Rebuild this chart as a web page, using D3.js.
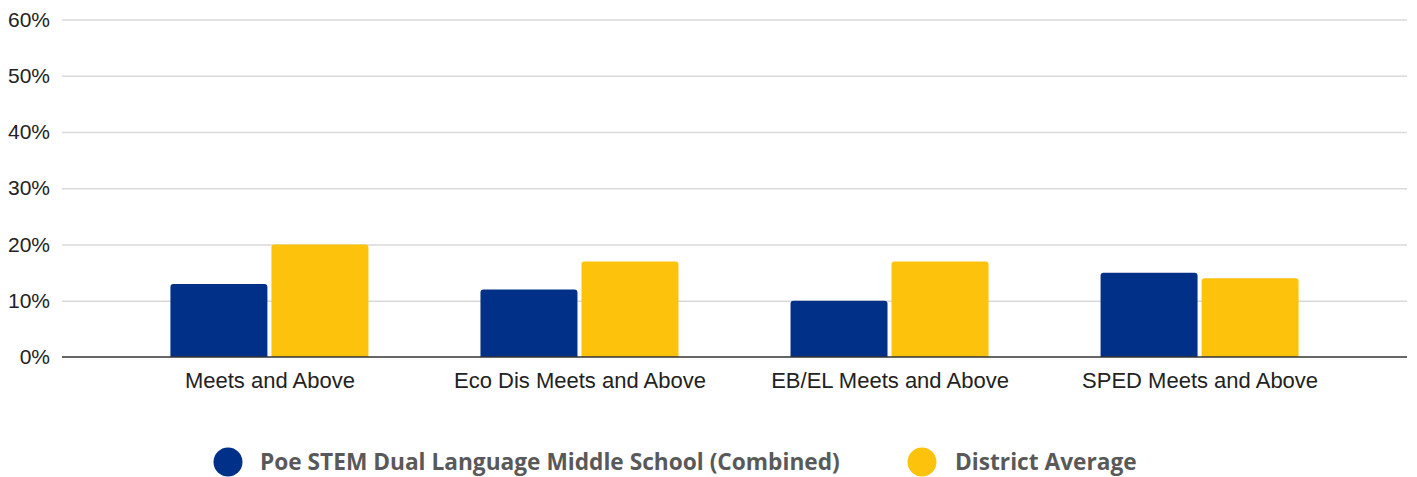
<!DOCTYPE html>
<html>
<head>
<meta charset="utf-8">
<script src="https://cdn.jsdelivr.net/npm/d3@7"></script>
<style>
  html, body { margin: 0; padding: 0; background: #fff; }
  svg { display: block; }
</style>
</head>
<body>
<svg id="chart" width="1417" height="477"></svg>
<script>
const categories = ["Meets and Above", "Eco Dis Meets and Above", "EB/EL Meets and Above", "SPED Meets and Above"];
const seriesNames = ["Poe STEM Dual Language Middle School (Combined)", "District Average"];
const schoolValues = [13, 12, 10, 15];
const districtValues = [20, 17, 17, 14];
const yTicks = [0, 10, 20, 30, 40, 50, 60];
const seriesColors = ["#003087", "#FDC20C"];

(function () {
const svg = d3.select("#chart");
const mLeft = 62, mRight = 1407, mTop = 19.5, mBottom = 357;

const x = d3.scalePoint().domain(categories).range([mLeft, mRight]).padding(0.669);
const inner = d3.scaleBand().domain(seriesNames).range([-99, 99]).paddingInner(0.04);
const y = d3.scaleLinear().domain([0, 60]).range([mBottom, mTop]);

// gridlines + y labels
const yAxis = d3.axisLeft(y).tickValues(yTicks).tickFormat(d => d + "%").tickSize(0).tickPadding(12);
const gy = svg.append("g").attr("transform", `translate(${mLeft},0)`).call(yAxis);
gy.select(".domain").remove();
gy.selectAll("text").attr("font-family", "Liberation Sans, Arial, sans-serif").attr("font-size", 21).attr("fill", "#222");
gy.selectAll(".tick").append("line")
  .attr("x1", 0).attr("x2", mRight - mLeft)
  .attr("stroke", d => d === 0 ? "none" : "#d9d9d9").attr("stroke-width", 1.5);

const data = categories.map((c, i) => ({ cat: c, vals: [schoolValues[i], districtValues[i]] }));

const r = 3;
function topRounded(x0, y0, w, h) {
  return `M${x0},${y0 + h}V${y0 + r}Q${x0},${y0} ${x0 + r},${y0}H${x0 + w - r}Q${x0 + w},${y0} ${x0 + w},${y0 + r}V${y0 + h}Z`;
}

const groups = svg.append("g").selectAll("g").data(data).join("g")
  .attr("transform", d => `translate(${x(d.cat)},0)`);
groups.selectAll("path").data(d => d.vals.map((v, j) => ({ v, s: seriesNames[j], j })))
  .join("path")
  .attr("d", d => topRounded(inner(d.s), y(d.v), inner.bandwidth(), y(0) - y(d.v)))
  .attr("fill", d => seriesColors[d.j]);

// baseline
svg.append("line").attr("x1", mLeft).attr("x2", mRight).attr("y1", y(0)).attr("y2", y(0))
  .attr("stroke", "#333").attr("stroke-width", 1.5);

// x axis labels
const xAxis = d3.axisBottom(x).tickSize(0).tickPadding(15);
const gx = svg.append("g").attr("transform", `translate(0,${mBottom})`).call(xAxis);
gx.select(".domain").remove();
gx.selectAll("text").attr("font-family", "Liberation Sans, Arial, sans-serif").attr("font-size", 22).attr("fill", "#222");

// legend
const legendItems = [
  { name: seriesNames[0], color: seriesColors[0], cx: 228, tx: 260 },
  { name: seriesNames[1], color: seriesColors[1], cx: 922, tx: 955 }
];
const lg = svg.append("g");
lg.selectAll("circle").data(legendItems).join("circle")
  .attr("cx", d => d.cx).attr("cy", 462).attr("r", 14.5).attr("fill", d => d.color);
lg.selectAll("text").data(legendItems).join("text")
  .attr("x", d => d.tx).attr("y", 462).attr("dy", "0.35em")
  .attr("font-family", "Open Sans, sans-serif").attr("font-weight", "bold").attr("font-size", 22.7)
  .attr("fill", "#595959")
  .text(d => d.name);
})();
</script>
</body>
</html>
